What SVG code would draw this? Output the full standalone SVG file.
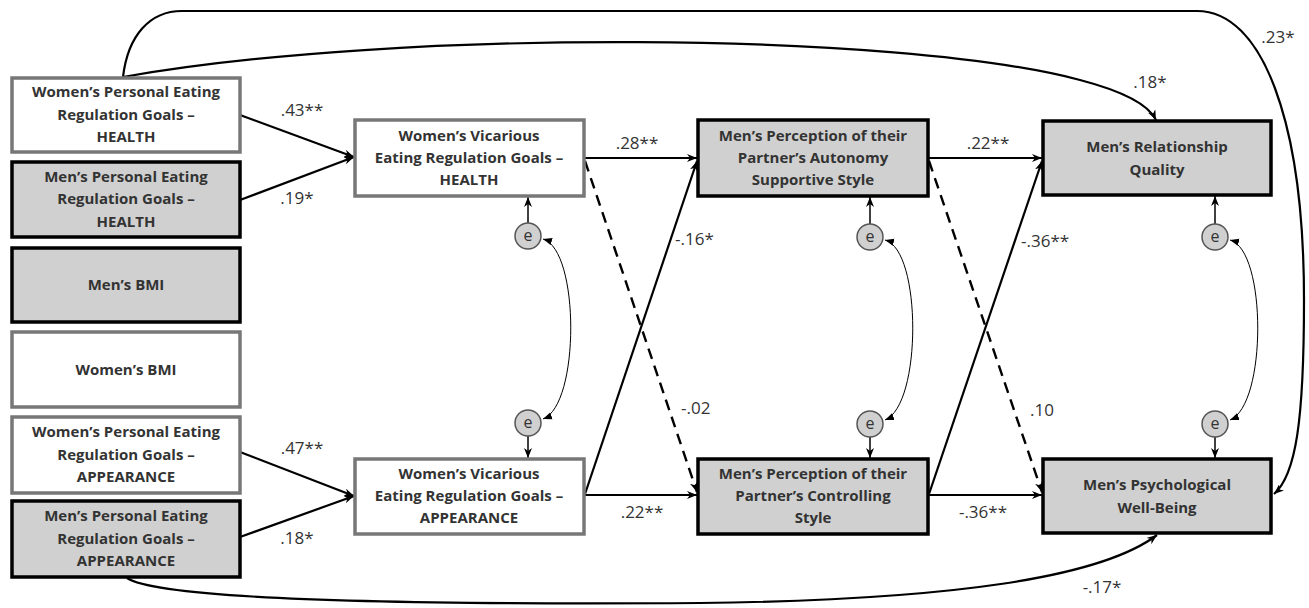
<svg xmlns="http://www.w3.org/2000/svg" width="1309" height="608" viewBox="0 0 1309 608">
<style>
.wbox{fill:#ffffff;stroke:#777777;stroke-width:3.5}
.gbox{fill:#d0d0d0;stroke:#000000;stroke-width:3.5}
.bt{font-family:"Open Sans","Liberation Sans",sans-serif;font-weight:bold;font-size:15px;fill:#333333;text-anchor:middle}
.lb{font-family:"Open Sans","Liberation Sans",sans-serif;font-size:17px;fill:#333333}
.c{fill:none;stroke:#000;stroke-width:2.2}
.d{fill:none;stroke:#000;stroke-width:2.4;stroke-dasharray:11,7}
.t{fill:none;stroke:#000;stroke-width:1}
.ec{fill:#d0d0d0;stroke:#555;stroke-width:1.5}
.et{font-family:"Open Sans","Liberation Sans",sans-serif;font-size:16px;fill:#333;text-anchor:middle}
</style>
<defs>
<marker id="ah" viewBox="0 0 10 8" refX="10" refY="4" markerWidth="10" markerHeight="8" markerUnits="userSpaceOnUse" orient="auto">
<path d="M0,0 L10,4 L0,8 L3,4 z" fill="#000"/>
</marker>
<marker id="as" viewBox="0 0 10 8" refX="10" refY="4" markerWidth="9" markerHeight="8" markerUnits="userSpaceOnUse" orient="auto-start-reverse">
<path d="M0,0 L10,4 L0,8 z" fill="#000"/>
</marker>
</defs>

<g id="connectors">
<path class="c" d="M240,115 L354,157" marker-end="url(#ah)"/>
<path class="c" d="M240,200 L354,157" marker-end="url(#ah)"/>
<path class="c" d="M240,452 L354,496" marker-end="url(#ah)"/>
<path class="c" d="M240,537 L354,496" marker-end="url(#ah)"/>
<path class="c" d="M585,158 L697,158" marker-end="url(#ah)"/>
<path class="c" d="M585,495 L697,495" marker-end="url(#ah)"/>
<path class="c" d="M585,494 L697,161" marker-end="url(#ah)"/>
<path class="d" d="M585,161 L697,492" marker-end="url(#ah)"/>
<path class="c" d="M929,158 L1042,158" marker-end="url(#ah)"/>
<path class="c" d="M929,495 L1042,495" marker-end="url(#ah)"/>
<path class="c" d="M929,494 L1042,161" marker-end="url(#ah)"/>
<path class="d" d="M929,161 L1042,492" marker-end="url(#ah)"/>
<path class="c" d="M123,77 C128,35 150,11 182,11 L1197,11 C1262,11 1304,120 1304,300 C1304,420 1296,475 1274,494" marker-end="url(#ah)"/>
<path class="c" d="M123,77 C400,28 900,32 1080,80 Q1145,97 1156,120" marker-end="url(#ah)"/>
<path class="c" d="M127,578 C160,600 400,605 700,603 C950,600 1100,578 1157,535" marker-end="url(#ah)"/>
<path class="c" style="stroke-width:1.5" d="M528,223 L528,197" marker-end="url(#ah)"/>
<path class="c" style="stroke-width:1.5" d="M528,436 L528,458" marker-end="url(#ah)"/>
<path class="c" style="stroke-width:1.5" d="M870,224 L870,197" marker-end="url(#ah)"/>
<path class="c" style="stroke-width:1.5" d="M870,437 L870,458" marker-end="url(#ah)"/>
<path class="c" style="stroke-width:1.5" d="M1215,224 L1215,196" marker-end="url(#ah)"/>
<path class="c" style="stroke-width:1.5" d="M1215,437 L1215,458" marker-end="url(#ah)"/>
<path class="t" d="M543,239 C580,250 580,405 543,419" marker-start="url(#as)" marker-end="url(#as)"/>
<path class="t" d="M885,240 C922,250 922,405 885,420" marker-start="url(#as)" marker-end="url(#as)"/>
<path class="t" d="M1230,240 C1267,250 1267,405 1230,420" marker-start="url(#as)" marker-end="url(#as)"/>
</g>

<g id="labels">
<text class="lb" x="302" y="116" text-anchor="middle">.43**</text>
<text class="lb" x="297" y="204" text-anchor="middle">.19*</text>
<text class="lb" x="302" y="454" text-anchor="middle">.47**</text>
<text class="lb" x="297" y="544" text-anchor="middle">.18*</text>
<text class="lb" x="637" y="149" text-anchor="middle">.28**</text>
<text class="lb" x="642" y="518" text-anchor="middle">.22**</text>
<text class="lb" x="675" y="245">-.16*</text>
<text class="lb" x="681" y="414">-.02</text>
<text class="lb" x="988" y="149" text-anchor="middle">.22**</text>
<text class="lb" x="983" y="518" text-anchor="middle">-.36**</text>
<text class="lb" x="1021" y="247">-.36**</text>
<text class="lb" x="1030" y="416">.10</text>
<text class="lb" x="1150" y="88" text-anchor="middle">.18*</text>
<text class="lb" x="1278" y="43" text-anchor="middle">.23*</text>
<text class="lb" x="1102" y="593" text-anchor="middle">-.17*</text>
</g>

<g id="n_wph"><rect class="wbox" x="12" y="78" width="228" height="74"/>
<text class="bt" x="126" y="97">Women’s Personal Eating</text><text class="bt" x="126" y="120">Regulation Goals –</text><text class="bt" x="126" y="142">HEALTH</text></g>
<g id="n_mph"><rect class="gbox" x="12" y="162" width="228" height="75"/>
<text class="bt" x="126" y="182">Men’s Personal Eating</text><text class="bt" x="126" y="204">Regulation Goals –</text><text class="bt" x="126" y="227">HEALTH</text></g>
<g id="n_mbmi"><rect class="gbox" x="12" y="248" width="228" height="74"/>
<text class="bt" x="126" y="290">Men’s BMI</text></g>
<g id="n_wbmi"><rect class="wbox" x="12" y="332" width="228" height="75"/>
<text class="bt" x="126" y="375">Women’s BMI</text></g>
<g id="n_wpa"><rect class="wbox" x="12" y="417" width="228" height="76"/>
<text class="bt" x="126" y="437">Women’s Personal Eating</text><text class="bt" x="126" y="460">Regulation Goals –</text><text class="bt" x="126" y="482">APPEARANCE</text></g>
<g id="n_mpa"><rect class="gbox" x="12" y="501" width="228" height="76"/>
<text class="bt" x="126" y="521">Men’s Personal Eating</text><text class="bt" x="126" y="544">Regulation Goals –</text><text class="bt" x="126" y="566">APPEARANCE</text></g>

<g id="n_wvh"><rect class="wbox" x="355" y="120" width="229" height="76"/>
<text class="bt" x="469" y="141">Women’s Vicarious</text><text class="bt" x="469" y="163">Eating Regulation Goals –</text><text class="bt" x="469" y="185">HEALTH</text></g>
<g id="n_wva"><rect class="wbox" x="355" y="459" width="229" height="75"/>
<text class="bt" x="469" y="479">Women’s Vicarious</text><text class="bt" x="469" y="501">Eating Regulation Goals –</text><text class="bt" x="469" y="523">APPEARANCE</text></g>

<g id="n_auto"><rect class="gbox" x="698" y="120" width="230" height="76"/>
<text class="bt" x="813" y="141">Men’s Perception of their</text><text class="bt" x="813" y="163">Partner’s Autonomy</text><text class="bt" x="813" y="185">Supportive Style</text></g>
<g id="n_ctrl"><rect class="gbox" x="698" y="459" width="230" height="75"/>
<text class="bt" x="813" y="479">Men’s Perception of their</text><text class="bt" x="813" y="501">Partner’s Controlling</text><text class="bt" x="813" y="523">Style</text></g>

<g id="n_rq"><rect class="gbox" x="1043" y="121" width="228" height="74"/>
<text class="bt" x="1157" y="152">Men’s Relationship</text><text class="bt" x="1157" y="175">Quality</text></g>
<g id="n_pwb"><rect class="gbox" x="1043" y="459" width="228" height="74"/>
<text class="bt" x="1157" y="490">Men’s Psychological</text><text class="bt" x="1157" y="513">Well-Being</text></g>

<g id="n_e1"><circle class="ec" cx="528" cy="236" r="13"/><text class="et" x="528" y="241">e</text></g>
<g id="n_e2"><circle class="ec" cx="528" cy="423" r="13"/><text class="et" x="528" y="428">e</text></g>
<g id="n_e3"><circle class="ec" cx="870" cy="237" r="13"/><text class="et" x="870" y="242">e</text></g>
<g id="n_e4"><circle class="ec" cx="870" cy="424" r="13"/><text class="et" x="870" y="429">e</text></g>
<g id="n_e5"><circle class="ec" cx="1215" cy="237" r="13"/><text class="et" x="1215" y="242">e</text></g>
<g id="n_e6"><circle class="ec" cx="1215" cy="424" r="13"/><text class="et" x="1215" y="429">e</text></g>
</svg>
